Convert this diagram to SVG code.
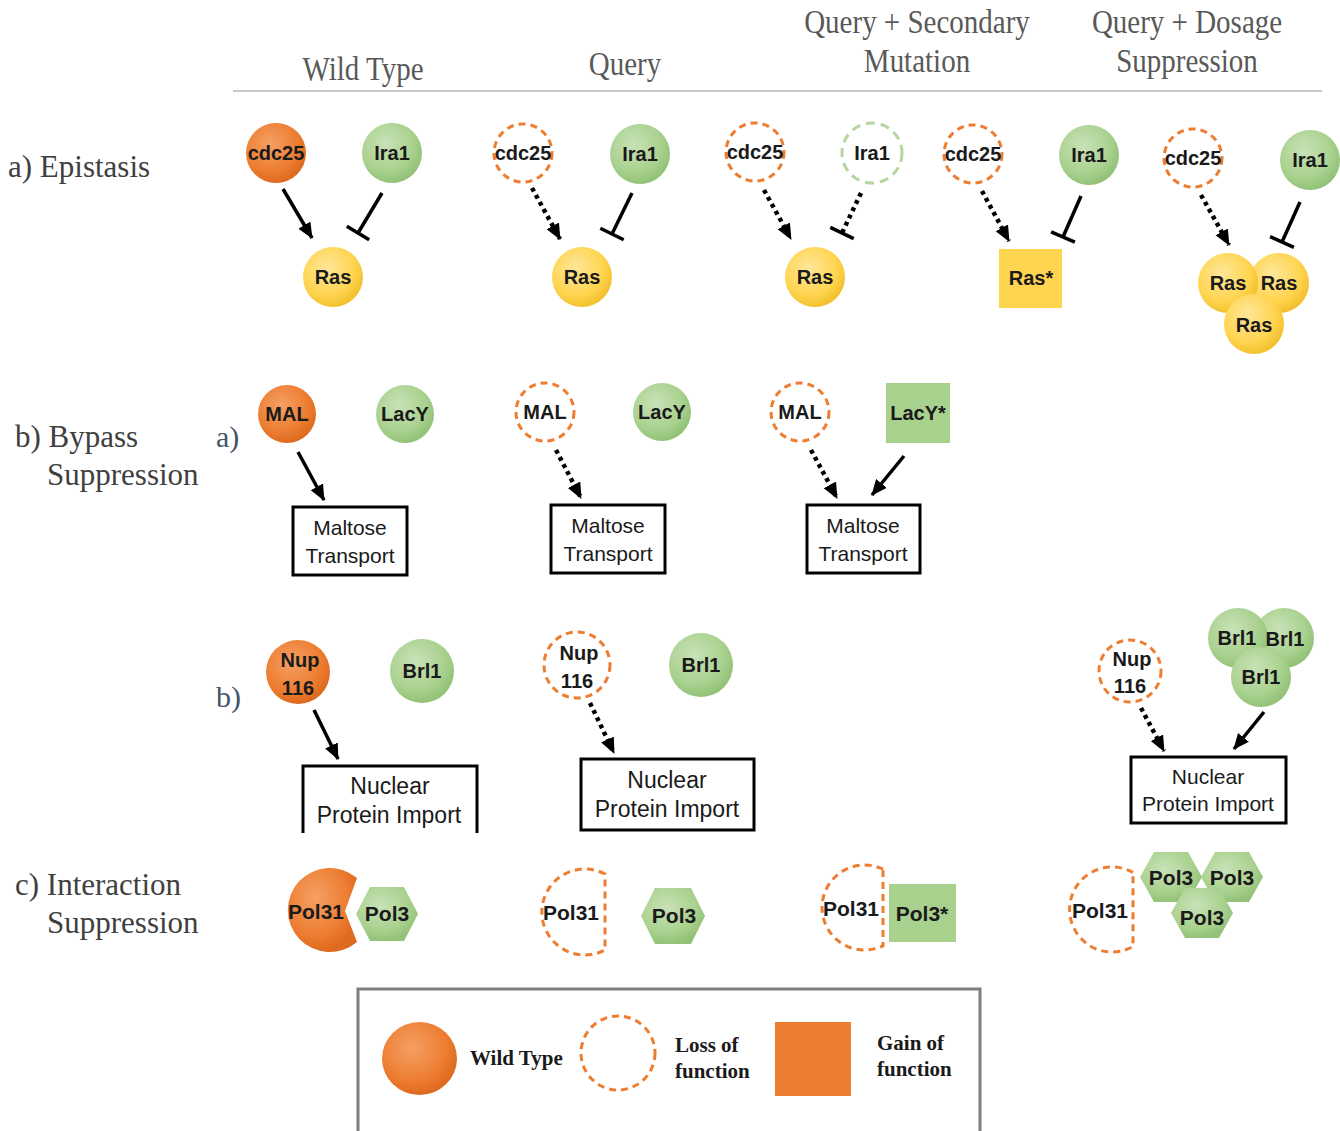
<svg xmlns="http://www.w3.org/2000/svg" width="1340" height="1131" viewBox="0 0 1340 1131">
<style>
.hdr{font-family:"Liberation Serif","Times New Roman",serif;font-size:29px;fill:#595959;text-anchor:middle}
.row{font-family:"Liberation Serif","Times New Roman",serif;font-size:31px;fill:#404040}
.sub{font-family:"Liberation Serif","Times New Roman",serif;font-size:30px;fill:#44546a}
.nt{font-family:"Liberation Sans",Arial,sans-serif;font-size:20px;font-weight:bold;fill:#1a1a1a;text-anchor:middle}
.bt{font-family:"Liberation Sans",Arial,sans-serif;font-size:21px;fill:#1a1a1a;text-anchor:middle}
.lg{font-family:"Liberation Serif","Times New Roman",serif;font-size:21px;font-weight:bold;fill:#1a1a1a}
.wo{fill:url(#gO)}
.wg{fill:url(#gG)}
.wy{fill:url(#gY)}
.lo{fill:#fff;stroke:#ed7d31;stroke-width:3;stroke-dasharray:7 5}
.lgr{fill:#fff;stroke:#b5d6a0;stroke-width:3;stroke-dasharray:9 6}
.box{fill:#fff;stroke:#000;stroke-width:3}
.sol{stroke:#000;stroke-width:3.5;fill:none}
.dot{stroke:#000;stroke-width:4.5;fill:none;stroke-dasharray:4 4}
.bar{stroke:#000;stroke-width:3.5}
.lp{fill:none;stroke:#ed7d31;stroke-width:3;stroke-dasharray:7 5}
</style>
<defs>
<radialGradient id="gO" cx="40%" cy="35%" r="65%"><stop offset="0" stop-color="#f5a064"/><stop offset="0.7" stop-color="#ed7d31"/><stop offset="1" stop-color="#dd6a1f"/></radialGradient>
<radialGradient id="gG" cx="40%" cy="35%" r="65%"><stop offset="0" stop-color="#c9e2b8"/><stop offset="0.7" stop-color="#a9d18e"/><stop offset="1" stop-color="#92c277"/></radialGradient>
<radialGradient id="gY" cx="40%" cy="35%" r="65%"><stop offset="0" stop-color="#ffe79a"/><stop offset="0.7" stop-color="#ffd44f"/><stop offset="1" stop-color="#f3c12f"/></radialGradient>
<marker id="ah" markerUnits="userSpaceOnUse" markerWidth="18" markerHeight="16" refX="15" refY="7" orient="auto"><path d="M0,0 L16,7 L0,14 Z" fill="#000"/></marker>
</defs>

<g id="headers">
<line x1="233" y1="91" x2="1322" y2="91" stroke="#c8c8c8" stroke-width="2"/>
<text class="hdr" transform="translate(363,80) scale(1,1.18)">Wild Type</text>
<text class="hdr" transform="translate(625,75) scale(1,1.18)">Query</text>
<text class="hdr" transform="translate(917,33) scale(1,1.18)">Query + Secondary</text>
<text class="hdr" transform="translate(917,72) scale(1,1.18)">Mutation</text>
<text class="hdr" transform="translate(1187,33) scale(1,1.18)">Query + Dosage</text>
<text class="hdr" transform="translate(1187,72) scale(1,1.18)">Suppression</text>
</g>

<g id="row-labels">
<text class="row" x="8" y="177">a) Epistasis</text>
<text class="row" x="15" y="447">b) Bypass</text>
<text class="row" x="47" y="485">Suppression</text>
<text class="row" x="15" y="895">c) Interaction</text>
<text class="row" x="47" y="933">Suppression</text>
<text class="sub" x="216" y="447">a)</text>
<text class="sub" x="216" y="707">b)</text>
</g>

<g id="connectors">
<line class="sol" x1="283" y1="189" x2="312" y2="238" marker-end="url(#ah)"/>
<line class="sol" x1="382" y1="193" x2="358" y2="233"/>
<line class="bar" x1="346.8" y1="226.3" x2="369.2" y2="239.7"/>
<line class="dot" x1="532" y1="188" x2="560" y2="239" marker-end="url(#ah)"/>
<line class="sol" x1="632" y1="193" x2="612" y2="234"/>
<line class="bar" x1="600.3" y1="228.3" x2="623.7" y2="239.7"/>
<line class="dot" x1="764" y1="190" x2="791" y2="239" marker-end="url(#ah)"/>
<line class="dot" x1="861" y1="193" x2="842" y2="233"/>
<line class="bar" x1="830.3" y1="227.4" x2="853.7" y2="238.6"/>
<line class="dot" x1="982" y1="191" x2="1009" y2="241" marker-end="url(#ah)"/>
<line class="sol" x1="1081" y1="196" x2="1063" y2="237"/>
<line class="bar" x1="1051.1" y1="231.8" x2="1074.9" y2="242.2"/>
<line class="dot" x1="1201" y1="195" x2="1229" y2="245" marker-end="url(#ah)"/>
<line class="sol" x1="1300" y1="202" x2="1282" y2="242"/>
<line class="bar" x1="1270.1" y1="236.7" x2="1293.9" y2="247.3"/>
<line class="sol" x1="298" y1="452" x2="324" y2="500" marker-end="url(#ah)"/>
<line class="dot" x1="556" y1="450" x2="581" y2="498" marker-end="url(#ah)"/>
<line class="dot" x1="811" y1="450" x2="837" y2="498" marker-end="url(#ah)"/>
<line class="sol" x1="904" y1="456" x2="872" y2="495" marker-end="url(#ah)"/>
<line class="sol" x1="314" y1="710" x2="338" y2="759" marker-end="url(#ah)"/>
<line class="dot" x1="590" y1="703" x2="614" y2="753" marker-end="url(#ah)"/>
<line class="dot" x1="1141" y1="708" x2="1164" y2="751" marker-end="url(#ah)"/>
<line class="sol" x1="1264" y1="712" x2="1234" y2="749" marker-end="url(#ah)"/>
</g>

<g id="ep-wt-cdc25"><circle class="wo" cx="276" cy="153" r="30"/><text class="nt" x="276" y="160">cdc25</text></g>
<g id="ep-wt-ira1"><circle class="wg" cx="392" cy="153" r="30"/><text class="nt" x="392" y="160">Ira1</text></g>
<g id="ep-wt-ras"><circle class="wy" cx="333" cy="277" r="30"/><text class="nt" x="333" y="284">Ras</text></g>
<g id="ep-q-cdc25"><circle class="lo" cx="523" cy="153" r="29"/><text class="nt" x="523" y="160" font-weight="normal">cdc25</text></g>
<g id="ep-q-ira1"><circle class="wg" cx="640" cy="154" r="30"/><text class="nt" x="640" y="161">Ira1</text></g>
<g id="ep-q-ras"><circle class="wy" cx="582" cy="277" r="30"/><text class="nt" x="582" y="284">Ras</text></g>
<g id="ep-s1-cdc25"><circle class="lo" cx="755" cy="152" r="29"/><text class="nt" x="755" y="159" font-weight="normal">cdc25</text></g>
<g id="ep-s1-ira1"><circle class="lgr" cx="872" cy="153" r="30"/><text class="nt" x="872" y="160" font-weight="normal">Ira1</text></g>
<g id="ep-s1-ras"><circle class="wy" cx="815" cy="277" r="30"/><text class="nt" x="815" y="284">Ras</text></g>
<g id="ep-s2-cdc25"><circle class="lo" cx="973" cy="154" r="29"/><text class="nt" x="973" y="161" font-weight="normal">cdc25</text></g>
<g id="ep-s2-ira1"><circle class="wg" cx="1089" cy="155" r="30"/><text class="nt" x="1089" y="162">Ira1</text></g>
<g id="ep-s2-ras"><rect x="999" y="249" width="63" height="59" fill="#ffd44f"/><text class="nt" x="1031" y="285">Ras*</text></g>
<g id="ep-d-cdc25"><circle class="lo" cx="1193" cy="158" r="29"/><text class="nt" x="1193" y="165" font-weight="normal">cdc25</text></g>
<g id="ep-d-ira1"><circle class="wg" cx="1310" cy="160" r="30"/><text class="nt" x="1310" y="167">Ira1</text></g>
<g id="ep-d-ras"><circle class="wy" cx="1279" cy="283" r="30"/><circle class="wy" cx="1228" cy="283" r="30"/><circle class="wy" cx="1254" cy="324" r="30"/><text class="nt" x="1228" y="290">Ras</text><text class="nt" x="1279" y="290">Ras</text><text class="nt" x="1254" y="332">Ras</text></g>

<g id="bp-wt-mal"><circle class="wo" cx="287" cy="414" r="29"/><text class="nt" x="287" y="421">MAL</text></g>
<g id="bp-wt-lacy"><circle class="wg" cx="405" cy="414" r="29"/><text class="nt" x="405" y="421">LacY</text></g>
<g id="bp-wt-box"><rect class="box" x="293" y="507" width="114" height="68"/><text class="bt" x="350" y="535">Maltose</text><text class="bt" x="350" y="563">Transport</text></g>
<g id="bp-q-mal"><circle class="lo" cx="545" cy="412" r="29"/><text class="nt" x="545" y="419" font-weight="normal">MAL</text></g>
<g id="bp-q-lacy"><circle class="wg" cx="662" cy="412" r="29"/><text class="nt" x="662" y="419">LacY</text></g>
<g id="bp-q-box"><rect class="box" x="551" y="505" width="114" height="68"/><text class="bt" x="608" y="533">Maltose</text><text class="bt" x="608" y="561">Transport</text></g>
<g id="bp-s-mal"><circle class="lo" cx="800" cy="412" r="29"/><text class="nt" x="800" y="419" font-weight="normal">MAL</text></g>
<g id="bp-s-lacy"><rect x="886" y="383" width="64" height="60" fill="#a9d18e"/><text class="nt" x="918" y="420">LacY*</text></g>
<g id="bp-s-box"><rect class="box" x="807" y="505" width="113" height="68"/><text class="bt" x="863" y="533">Maltose</text><text class="bt" x="863" y="561">Transport</text></g>

<g id="bb-wt-nup"><circle class="wo" cx="298" cy="672" r="32"/><text class="nt" x="300" y="667">Nup</text><text class="nt" x="298" y="695">116</text></g>
<g id="bb-wt-brl1"><circle class="wg" cx="422" cy="671" r="32"/><text class="nt" x="422" y="678">Brl1</text></g>
<g id="bb-wt-box"><path d="M303,833 V766 H477 V833" class="box"/><text class="bt" x="390" y="794" style="font-size:23px">Nuclear</text><text class="bt" x="389" y="823" style="font-size:23px">Protein Import</text></g>
<g id="bb-q-nup"><circle class="lo" cx="577" cy="665" r="33"/><text class="nt" x="579" y="660" font-weight="normal">Nup</text><text class="nt" x="577" y="688" font-weight="normal">116</text></g>
<g id="bb-q-brl1"><circle class="wg" cx="701" cy="665" r="32"/><text class="nt" x="701" y="672">Brl1</text></g>
<g id="bb-q-box"><rect class="box" x="581" y="759" width="173" height="71"/><text class="bt" x="667" y="788" style="font-size:23px">Nuclear</text><text class="bt" x="667" y="817" style="font-size:23px">Protein Import</text></g>
<g id="bb-d-nup"><circle class="lo" cx="1130" cy="671" r="31"/><text class="nt" x="1132" y="666" font-weight="normal">Nup</text><text class="nt" x="1130" y="693" font-weight="normal">116</text></g>
<g id="bb-d-brl1"><circle class="wg" cx="1284" cy="638" r="30"/><circle class="wg" cx="1238" cy="638" r="30"/><circle class="wg" cx="1261" cy="677" r="30"/><text class="nt" x="1237" y="645">Brl1</text><text class="nt" x="1285" y="646">Brl1</text><text class="nt" x="1261" y="684">Brl1</text></g>
<g id="bb-d-box"><rect class="box" x="1131" y="757" width="155" height="66"/><text class="bt" x="1208" y="784">Nuclear</text><text class="bt" x="1208" y="811">Protein Import</text></g>

<g id="is-wt-pol31"><path class="wo" d="M345,911 L357,878 A42 42 0 1 0 357,942 Z"/><text class="nt" x="316" y="919" style="font-size:21px">Pol31</text></g>
<g id="is-wt-pol3"><polygon class="wg" points="356,914 370,887 404,887 418,914 404,941 370,941"/><text class="nt" x="387" y="921" style="font-size:21px">Pol3</text></g>
<g id="is-q-pol31"><path class="lp" d="M605,874 A43 43 0 1 0 605,950 Z"/><text class="nt" x="571" y="920" style="font-size:21px" font-weight="normal">Pol31</text></g>
<g id="is-q-pol3"><polygon class="wg" points="641,916 655,888 691,888 705,916 691,944 655,944"/><text class="nt" x="674" y="923" style="font-size:21px">Pol3</text></g>
<g id="is-s-pol31"><path class="lp" d="M883,869.2 A42.5 42.5 0 1 0 883,945.8 Z"/><text class="nt" x="851" y="916" style="font-size:21px" font-weight="normal">Pol31</text></g>
<g id="is-s-pol3"><rect x="889" y="884" width="67" height="58" fill="#a9d18e"/><text class="nt" x="922" y="921" style="font-size:21px">Pol3*</text></g>
<g id="is-d-pol31"><path class="lp" d="M1133,872.5 A42.5 42.5 0 1 0 1133,946.5 Z"/><text class="nt" x="1100" y="918" style="font-size:21px" font-weight="normal">Pol31</text></g>
<g id="is-d-pol3"><polygon class="wg" points="1140,877 1154,852 1188,852 1202,877 1188,902 1154,902"/><polygon class="wg" points="1201,877 1215,852 1249,852 1263,877 1249,902 1215,902"/><polygon class="wg" points="1171,913 1185,888 1219,888 1233,913 1219,938 1185,938"/><text class="nt" x="1171" y="885" style="font-size:21px">Pol3</text><text class="nt" x="1232" y="885" style="font-size:21px">Pol3</text><text class="nt" x="1202" y="925" style="font-size:21px">Pol3</text></g>

<g id="legend">
<rect x="358" y="989" width="622" height="150" fill="#fff" stroke="#7f7f7f" stroke-width="3"/>
<ellipse class="wo" cx="419.5" cy="1058.5" rx="37.5" ry="36.5"/>
<text class="lg" x="470" y="1065">Wild Type</text>
<circle class="lo" cx="618" cy="1053" r="37"/>
<text class="lg" x="675" y="1052">Loss of</text>
<text class="lg" x="675" y="1078">function</text>
<rect x="775" y="1022" width="76" height="74" fill="#ed7d31"/>
<text class="lg" x="877" y="1050">Gain of</text>
<text class="lg" x="877" y="1076">function</text>
</g>
</svg>
